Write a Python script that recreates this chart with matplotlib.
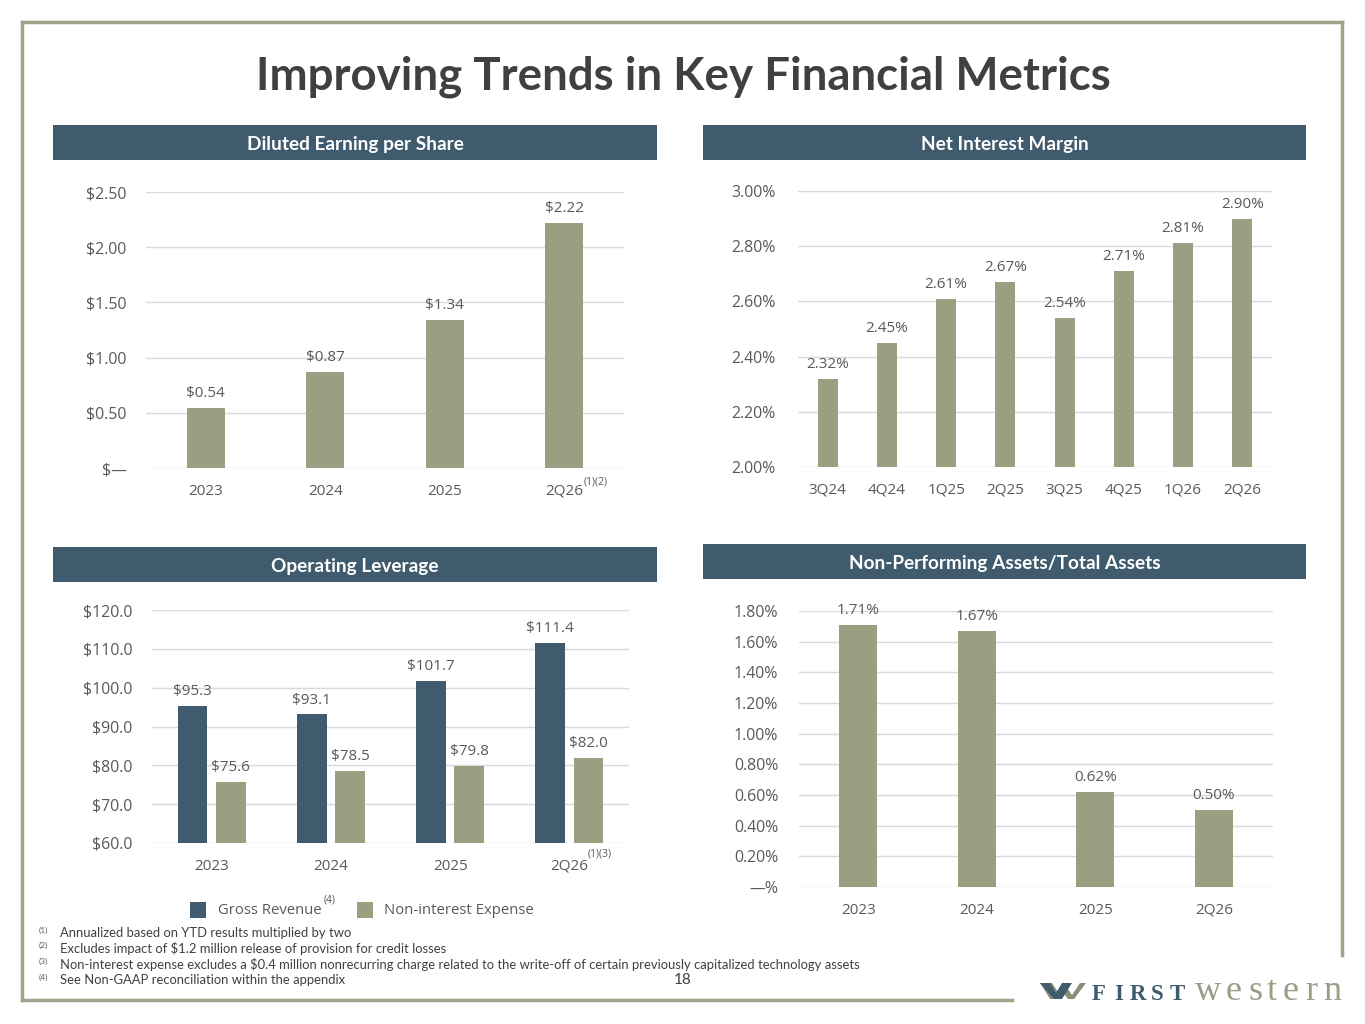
import matplotlib
matplotlib.use('Agg')
import matplotlib.pyplot as plt
from matplotlib.patches import Rectangle, Polygon
from matplotlib.lines import Line2D

W, H = 1365, 1024

# data
eps_cats = ['2023', '2024', '2025', '2Q26']
eps_vals = [0.54, 0.87, 1.34, 2.22]
eps_labels = ['$0.54', '$0.87', '$1.34', '$2.22']
eps_ticks = [0, 0.5, 1.0, 1.5, 2.0, 2.5]
eps_ticklabels = ['$\u2014', '$0.50', '$1.00', '$1.50', '$2.00', '$2.50']

nim_cats = ['3Q24', '4Q24', '1Q25', '2Q25', '3Q25', '4Q25', '1Q26', '2Q26']
nim_vals = [2.32, 2.45, 2.61, 2.67, 2.54, 2.71, 2.81, 2.90]
nim_ticks = [2.0, 2.2, 2.4, 2.6, 2.8, 3.0]

ol_cats = ['2023', '2024', '2025', '2Q26']
gross_rev = [95.3, 93.1, 101.7, 111.4]
nonint_exp = [75.6, 78.5, 79.8, 82.0]
ol_ticks = [60, 70, 80, 90, 100, 110, 120]

npa_cats = ['2023', '2024', '2025', '2Q26']
npa_vals = [1.71, 1.67, 0.62, 0.50]
npa_ticks = [0, 0.2, 0.4, 0.6, 0.8, 1.0, 1.2, 1.4, 1.6, 1.8]
npa_ticklabels = ['\u2014%', '0.20%', '0.40%', '0.60%', '0.80%', '1.00%', '1.20%', '1.40%', '1.60%', '1.80%']

footnotes = [
    ('(1)', 'Annualized based on YTD results multiplied by two'),
    ('(2)', 'Excludes impact of $1.2 million release of provision for credit losses'),
    ('(3)', 'Non-interest expense excludes a $0.4 million nonrecurring charge related to the write-off of certain previously capitalized technology assets'),
    ('(4)', 'See Non-GAAP reconciliation within the appendix'),
]

OLIVE = '#9b9f82'
NAVY = '#3f5b6d'
BORDER = '#a1a48b'
TXT = '#595959'
GRID = '#d9d9d9'
TICKFONT = 'Open Sans'
LATO = 'Lato'


def box(x0, y0, x1, y1):
    return [x0 / W, 1 - y1 / H, (x1 - x0) / W, (y1 - y0) / H]


def fx(x):
    return x / W


def fy(y):
    return 1 - y / H


fig = plt.figure(figsize=(W / 100, H / 100), dpi=100)
fig.patch.set_facecolor('white')

# slide border
for xs, ys in [([22, 1342], [22, 22]), ([22, 22], [22, 1000]),
               ([1342, 1342], [22, 955]), ([22, 1012], [1000, 1000])]:
    fig.add_artist(Line2D([fx(x) for x in xs], [fy(y) for y in ys], color=BORDER, lw=2.5))

fig.text(fx(683), fy(77), 'Improving Trends in Key Financial Metrics', family=LATO,
         weight='bold', size=32.9, color='#404040', ha='center', va='center')

# section headers
headers = [('Diluted Earning per Share', 53, 125, 657, 160),
           ('Net Interest Margin', 703, 125, 1306, 160),
           ('Operating Leverage', 53, 547, 657, 582),
           ('Non-Performing Assets/Total Assets', 703, 544, 1306, 579)]
for title, x0, y0, x1, y1 in headers:
    fig.add_artist(Rectangle((fx(x0), fy(y1)), fx(x1 - x0), (y1 - y0) / H,
                             facecolor=NAVY, edgecolor='none'))
    fig.text(fx((x0 + x1) / 2), fy((y0 + y1) / 2 + 2), title, family=LATO, weight='bold',
             size=13.7, color='white', ha='center', va='center')


def style_axis(ax, ticks, ticklabels, ylim, ypad):
    ax.set_ylim(*ylim)
    ax.set_yticks(ticks)
    ax.set_yticklabels(ticklabels)
    for s in ax.spines.values():
        s.set_visible(False)
    ax.grid(axis='y', color=GRID, lw=1)
    ax.set_axisbelow(True)
    ax.tick_params(axis='both', length=0, labelsize=11, labelcolor=TXT)
    ax.tick_params(axis='y', pad=ypad, labelsize=11.4)
    ax.tick_params(axis='x', pad=11.5)
    for lab in ax.get_xticklabels() + ax.get_yticklabels():
        lab.set_family(TICKFONT)


def value_label(ax, text, x, y):
    ax.annotate(text, (x, y), xytext=(0, 5), textcoords='offset points',
                ha='center', va='bottom', size=11, color=TXT, family=TICKFONT)


# Diluted EPS
ax1 = fig.add_axes(box(146, 192, 624, 468))
x = range(len(eps_cats))
ax1.bar(x, eps_vals, width=0.32, color=OLIVE)
ax1.set_xlim(-0.5, len(eps_cats) - 0.5)
ax1.set_xticks(list(x))
ax1.set_xticklabels(eps_cats)
style_axis(ax1, eps_ticks, eps_ticklabels, (0, 2.5), 14)
for i, v in enumerate(eps_vals):
    value_label(ax1, eps_labels[i], i, v)
ax1.annotate('(1)(2)', (3, 0), xytext=(14, -10), textcoords='offset points',
             ha='left', va='center', size=7.5, color=TXT, family=TICKFONT)

# Net interest margin
ax2 = fig.add_axes(box(798, 191, 1272, 467))
x = range(len(nim_cats))
ax2.bar(x, nim_vals, width=0.34, color=OLIVE)
ax2.set_xlim(-0.5, len(nim_cats) - 0.5)
ax2.set_xticks(list(x))
ax2.set_xticklabels(nim_cats)
style_axis(ax2, nim_ticks, ['%.2f%%' % t for t in nim_ticks], (2.0, 3.0), 16)
for i, v in enumerate(nim_vals):
    value_label(ax2, '%.2f%%' % v, i, v)

# Operating leverage
ax3 = fig.add_axes(box(152, 610, 629, 843))
x = list(range(len(ol_cats)))
off = 0.16
ax3.bar([i - off for i in x], [g - 60 for g in gross_rev], bottom=60, width=0.25, color=NAVY)
ax3.bar([i + off for i in x], [n - 60 for n in nonint_exp], bottom=60, width=0.25, color=OLIVE)
ax3.set_xlim(-0.5, len(ol_cats) - 0.5)
ax3.set_xticks(x)
ax3.set_xticklabels(ol_cats)
style_axis(ax3, ol_ticks, ['$%.1f' % t for t in ol_ticks], (60, 120), 14)
for i in x:
    value_label(ax3, '$%.1f' % gross_rev[i], i - off, gross_rev[i])
    value_label(ax3, '$%.1f' % nonint_exp[i], i + off, nonint_exp[i])
ax3.annotate('(1)(3)', (3, 60), xytext=(13, -8), textcoords='offset points',
             ha='left', va='center', size=7.5, color=TXT, family=TICKFONT)

# legend
fig.add_artist(Rectangle((fx(190), fy(918)), fx(16), 16 / H, facecolor=NAVY, edgecolor='none'))
fig.text(fx(218), fy(910), 'Gross Revenue', family=TICKFONT, size=10.7, color=TXT, va='center')
fig.text(fx(324), fy(900), '(4)', family=TICKFONT, size=7.5, color=TXT, va='center')
fig.add_artist(Rectangle((fx(357), fy(918)), fx(16), 16 / H, facecolor=OLIVE, edgecolor='none'))
fig.text(fx(384), fy(910), 'Non-interest Expense', family=TICKFONT, size=10.7, color=TXT, va='center')

# NPA / total assets
ax4 = fig.add_axes(box(799, 611, 1273, 887))
x = range(len(npa_cats))
ax4.bar(x, npa_vals, width=0.32, color=OLIVE)
ax4.set_xlim(-0.5, len(npa_cats) - 0.5)
ax4.set_xticks(list(x))
ax4.set_xticklabels(npa_cats)
style_axis(ax4, npa_ticks, npa_ticklabels, (0, 1.8), 15)
for i, v in enumerate(npa_vals):
    value_label(ax4, '%.2f%%' % v, i, v)

# footnotes
for k, (num, note) in enumerate(footnotes):
    yy = 933 + k * 15.7
    fig.text(fx(39), fy(yy - 3), num, family=LATO, size=6, color=TXT, va='center')
    fig.text(fx(60), fy(yy), note, family=LATO, size=9.4, color='#404040', va='center')

fig.text(fx(683), fy(980), '18', family=LATO, size=11, color='#404040', ha='center', va='center')

# logo
pts_back = [(1040, 983), (1052, 983), (1060, 995), (1066, 986), (1072, 995), (1080, 983),
            (1086, 983), (1074, 999), (1068, 999), (1062, 991), (1056, 999), (1050, 999)]
fig.add_artist(Polygon([(fx(a), fy(b)) for a, b in pts_back], closed=True,
                       facecolor='#8a8d78', edgecolor='none'))
pts_front = [(1040, 983), (1050, 983), (1056, 993), (1062, 983), (1072, 983),
             (1062, 999), (1054, 999)]
fig.add_artist(Polygon([(fx(a), fy(b)) for a, b in pts_front], closed=True,
                       facecolor=NAVY, edgecolor='none'))
# letter-spaced wordmark
for k, ch in enumerate('FIRST'):
    fig.text(fx(1099 + k * 19.5), fy(1000), ch, family='Liberation Serif', weight='bold',
             size=16.5, color=NAVY, ha='center', va='baseline')
west_x = [1195, 1226, 1248, 1267, 1283, 1305, 1323]
for ch, xx in zip('western', west_x):
    fig.text(fx(xx), fy(1000), ch, family='Liberation Serif',
             size=26, color='#9a9e86', ha='left', va='baseline')

fig.savefig('out.png', dpi=100)
